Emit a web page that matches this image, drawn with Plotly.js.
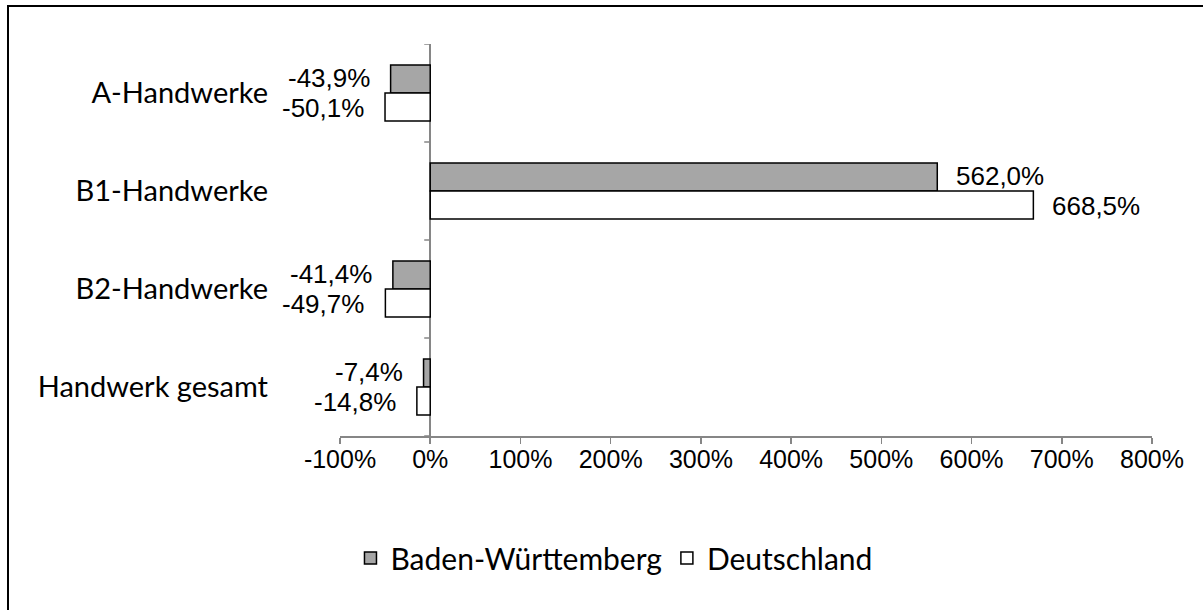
<!DOCTYPE html>
<html>
<head>
<meta charset="utf-8">
<script src="https://cdn.plot.ly/plotly-3.0.1.min.js"></script>
<style>
  html, body { margin: 0; padding: 0; background: #fff; }
  #wrap { position: relative; width: 1203px; height: 610px; overflow: hidden; }
  #chart { position: absolute; left: 0; top: 0; width: 1203px; height: 610px; }
  #frame { position: absolute; left: 7px; top: 5px; width: 1400px; height: 800px;
           border-top: 2px solid #000; border-left: 2px solid #000; pointer-events: none; }
</style>
</head>
<body>
<div id="wrap">
  <div id="chart"></div>
  <div id="frame"></div>
</div>
<script>
// ---- data ----
const categories = ['A-Handwerke', 'B1-Handwerke', 'B2-Handwerke', 'Handwerk gesamt'];
const seriesNames = ['Baden-Württemberg', 'Deutschland'];
const badenWuerttemberg = [-43.9, 562.0, -41.4, -7.4];
const deutschland = [-50.1, 668.5, -49.7, -14.8];
const xTickVals = [-100, 0, 100, 200, 300, 400, 500, 600, 700, 800];
const xTickText = ['-100%', '0%', '100%', '200%', '300%', '400%', '500%', '600%', '700%', '800%'];

const FONT = 'Lato, "Open Sans", sans-serif';
const NUMFONT = '"Liberation Sans", Arial, sans-serif';
const AXIS = '#868686';
const fmt = v => v.toFixed(1).replace('.', ',') + '%';

const traces = [
  {
    type: 'bar', orientation: 'h', name: seriesNames[0],
    y: categories, x: badenWuerttemberg,
    marker: { color: '#a6a6a6', line: { color: '#000', width: 1.5 } },
    hoverinfo: 'skip'
  },
  {
    type: 'bar', orientation: 'h', name: seriesNames[1],
    y: categories, x: deutschland,
    marker: { color: '#ffffff', line: { color: '#000', width: 1.5 } },
    hoverinfo: 'skip'
  }
];

// data labels
const annotations = [];
[badenWuerttemberg, deutschland].forEach((vals, s) => {
  vals.forEach((v, i) => {
    annotations.push({
      x: v, y: categories[i], xref: 'x', yref: 'y',
      text: fmt(v), showarrow: false,
      xanchor: v < 0 ? 'right' : 'left',
      xshift: v < 0 ? -20 : 18,
      yshift: s === 0 ? 14.8 : -14.8,
      borderpad: 0,
      font: { family: NUMFONT, size: 26, color: '#000' }
    });
  });
});

// boundary ticks on the vertical axis at x = 0
const shapes = [];
for (let i = 0; i <= categories.length; i++) {
  shapes.push({
    type: 'line', xref: 'x', yref: 'y', xsizemode: 'pixel', xanchor: 0,
    x0: -6, x1: 0, y0: i - 0.5, y1: i - 0.5,
    line: { color: AXIS, width: 1.5 }, layer: 'above'
  });
}

const layout = {
  width: 1203, height: 610,
  margin: { l: 340, r: 51, t: 44, b: 174, pad: 0 },
  paper_bgcolor: '#fff', plot_bgcolor: '#fff',
  font: { family: FONT, size: 26, color: '#000' },
  separators: ',.',
  barmode: 'group', bargap: 0.43, bargroupgap: 0,
  showlegend: true,
  legend: {
    orientation: 'h', x: 0.3374, xanchor: 'center', y: -0.311, yanchor: 'middle',
    font: { family: FONT, size: 30, color: '#000' }, traceorder: 'normal',
    itemclick: false, itemdoubleclick: false
  },
  xaxis: {
    range: [-100, 800], tickvals: xTickVals, ticktext: xTickText,
    showgrid: false, zeroline: true, zerolinecolor: AXIS, zerolinewidth: 2,
    showline: true, linecolor: AXIS, linewidth: 2,
    ticks: 'outside', ticklen: 6, tickcolor: AXIS, tickwidth: 1.5,
    ticklabelstandoff: -6,
    tickfont: { family: NUMFONT, size: 25, color: '#000' },
    fixedrange: true
  },
  yaxis: {
    type: 'category', categoryorder: 'array', categoryarray: categories,
    range: [categories.length - 0.5, -0.5],
    showgrid: false, zeroline: false, showline: false, ticks: '',
    ticklabelstandoff: 71,
    tickfont: { family: FONT, size: 29, color: '#000' },
    fixedrange: true
  },
  annotations: annotations,
  shapes: shapes
};

Plotly.newPlot('chart', traces, layout, { displayModeBar: false, staticPlot: true });
</script>
</body>
</html>
